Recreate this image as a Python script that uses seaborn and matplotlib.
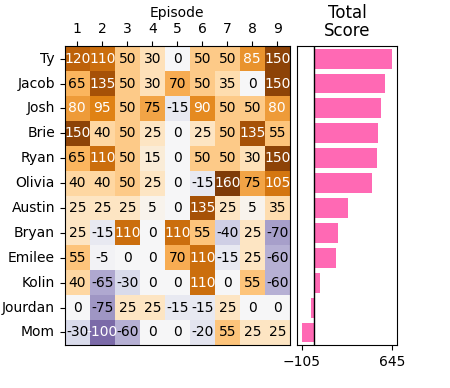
import numpy as np
import pandas as pd
import matplotlib
matplotlib.use("Agg")
import matplotlib.pyplot as plt
import seaborn as sns

names = ["Ty", "Jacob", "Josh", "Brie", "Ryan", "Olivia", "Austin",
         "Bryan", "Emilee", "Kolin", "Jourdan", "Mom"]
episodes = [1, 2, 3, 4, 5, 6, 7, 8, 9]
scores = [
    [120, 110, 50, 30, 0, 50, 50, 85, 150],
    [65, 135, 50, 30, 70, 50, 35, 0, 150],
    [80, 95, 50, 75, -15, 90, 50, 50, 80],
    [150, 40, 50, 25, 0, 25, 50, 135, 55],
    [65, 110, 50, 15, 0, 50, 50, 30, 150],
    [40, 40, 50, 25, 0, -15, 160, 75, 105],
    [25, 25, 25, 5, 0, 135, 25, 5, 35],
    [25, -15, 110, 0, 110, 55, -40, 25, -70],
    [55, -5, 0, 0, 70, 110, -15, 25, -60],
    [40, -65, -30, 0, 0, 110, 0, 55, -60],
    [0, -75, 25, 25, -15, -15, 25, 0, 0],
    [-30, -100, -60, 0, 0, -20, 55, 25, 25],
]

df = pd.DataFrame(scores, index=names, columns=episodes)
totals = df.sum(axis=1)

fig = plt.figure(figsize=(4.5, 3.88), dpi=100)
ax = fig.add_axes([0.144, 0.111, 0.5, 0.770])
ax2 = fig.add_axes([0.66, 0.111, 0.222, 0.770])

sns.heatmap(df, ax=ax, cmap="PuOr_r", center=0, annot=True, fmt="d",
            cbar=False, annot_kws={"fontsize": 10})
# white text on the strong cells
for txt, v in zip(ax.texts, df.values.ravel()):
    txt.set_color("white" if abs(v) > 75 else "black")
ax.xaxis.tick_top()
ax.xaxis.set_label_position("top")
ax.set_xlabel("Episode")
ax.set_ylabel("")
ax.tick_params(axis="x", rotation=0)
ax.tick_params(axis="y", rotation=0)
for s in ax.spines.values():
    s.set_visible(True)

sns.barplot(x=totals.values, y=totals.index, orient="h", color="hotpink",
            saturation=1, width=0.8, ax=ax2)
ax2.axvline(0, color="black", lw=1)
ax2.set_yticks([])
ax2.set_ylabel("")
ax2.set_xticks([totals.min(), totals.max()])
ax2.set_xlim(totals.min() - 37.5, totals.max() + 37.5)
ax2.set_title("Total\nScore", linespacing=1.0, pad=7)

fig.savefig("out.png", dpi=100)
